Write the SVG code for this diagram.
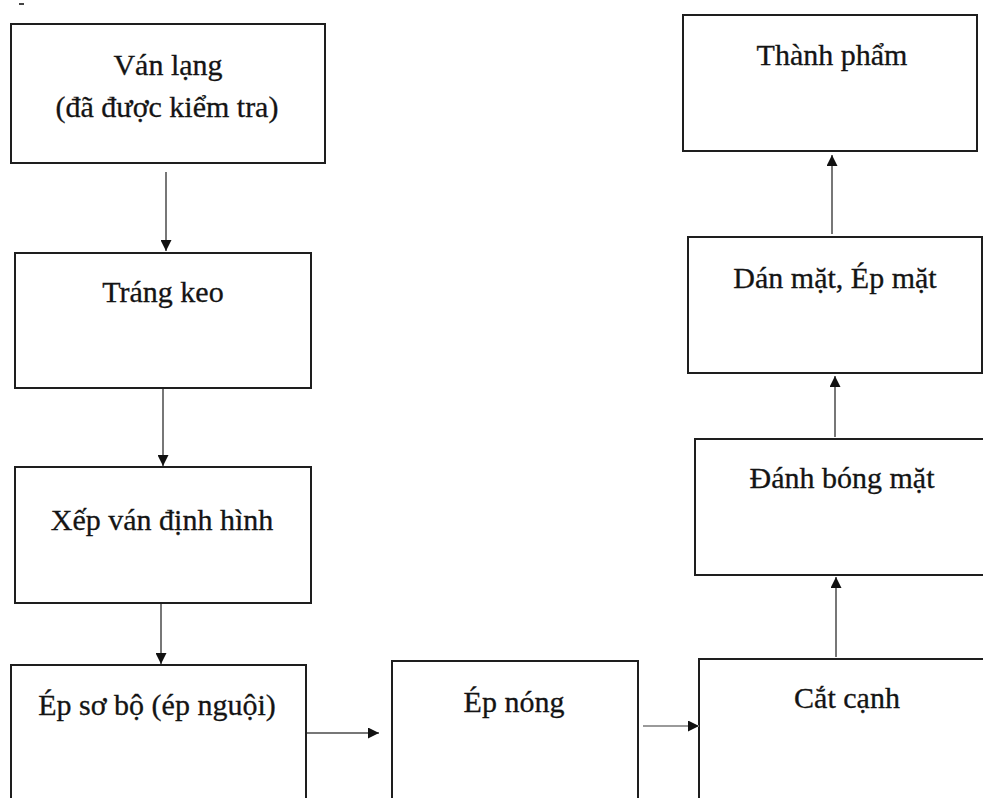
<svg xmlns="http://www.w3.org/2000/svg" width="983" height="798" viewBox="0 0 983 798">
  <style>
    .box { fill: #ffffff; stroke: #1e1e1e; stroke-width: 2; }
    .lbl { font-family: "Liberation Serif", "Times New Roman", serif; font-size: 30px; fill: #141414; stroke: #141414; stroke-width: 0.3; text-anchor: middle; }
    .wire { stroke: #4a4a4a; stroke-width: 1.5; fill: none; marker-end: url(#head); }
    .wire.light { stroke: #9a9a9a; stroke-width: 2; }
  </style>
  <defs>
    <marker id="head" viewBox="0 0 10 10" refX="10" refY="5" markerWidth="13" markerHeight="11" markerUnits="userSpaceOnUse" orient="auto">
      <path d="M0,0 L10,5 L0,10 Z" fill="#111111"/>
    </marker>
  </defs>
  <rect width="983" height="798" fill="#ffffff"/>
  <rect x="19" y="3" width="5" height="2" fill="#444444"/>

  <g id="van-lang">
    <rect class="box" x="11" y="24" width="314" height="139"/>
    <text class="lbl" x="168" y="75">Ván lạng</text>
    <text class="lbl" x="167" y="117">(đã được kiểm tra)</text>
  </g>
  <g id="trang-keo">
    <rect class="box" x="15" y="253" width="296" height="135"/>
    <text class="lbl" x="163" y="302">Tráng keo</text>
  </g>
  <g id="xep-van">
    <rect class="box" x="15" y="467" width="296" height="136"/>
    <text class="lbl" x="162" y="530">Xếp ván định hình</text>
  </g>
  <g id="ep-so-bo">
    <rect class="box" x="11" y="665" width="295" height="150"/>
    <text class="lbl" x="157" y="715">Ép sơ bộ (ép nguội)</text>
  </g>
  <g id="ep-nong">
    <rect class="box" x="392" y="661" width="246" height="150"/>
    <text class="lbl" x="514" y="712">Ép nóng</text>
  </g>
  <g id="cat-canh">
    <rect class="box" x="699" y="659" width="300" height="160"/>
    <text class="lbl" x="847" y="708">Cắt cạnh</text>
  </g>
  <g id="danh-bong">
    <rect class="box" x="695" y="439" width="300" height="136"/>
    <text class="lbl" x="842" y="488">Đánh bóng mặt</text>
  </g>
  <g id="dan-mat">
    <rect class="box" x="688" y="237" width="294" height="136"/>
    <text class="lbl" x="835" y="288">Dán mặt, Ép mặt</text>
  </g>
  <g id="thanh-pham">
    <rect class="box" x="683" y="15" width="294" height="136"/>
    <text class="lbl" x="832" y="65">Thành phẩm</text>
  </g>

  <g id="connectors">
    <line class="wire" x1="166" y1="172" x2="166" y2="251"/>
    <line class="wire" x1="163" y1="389" x2="163" y2="466"/>
    <line class="wire" x1="161" y1="604" x2="161" y2="664"/>
    <line class="wire" x1="307" y1="733" x2="379" y2="733"/>
    <line class="wire light" x1="643" y1="726" x2="699" y2="726"/>
    <line class="wire" x1="836" y1="657" x2="836" y2="577"/>
    <line class="wire" x1="835" y1="437" x2="835" y2="376"/>
    <line class="wire" x1="832" y1="234" x2="832" y2="155"/>
  </g>
</svg>
